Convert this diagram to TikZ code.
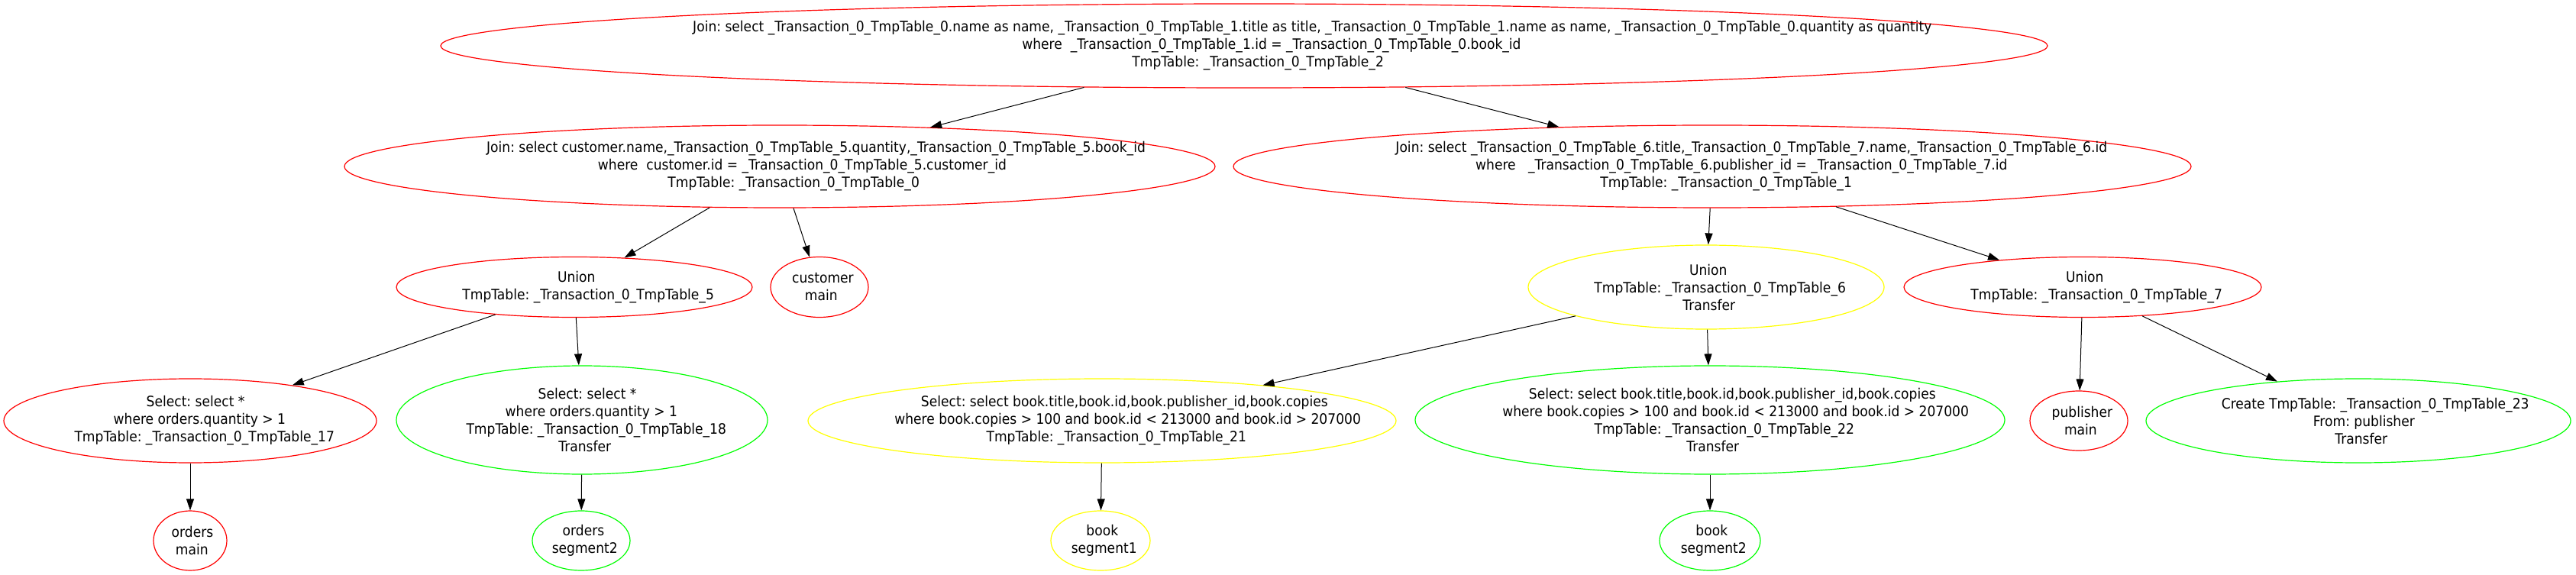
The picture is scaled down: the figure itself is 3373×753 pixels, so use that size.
\documentclass[tikz,border=0pt]{standalone}
\usepackage{fontspec}
\setmainfont{DejaVu Sans}[FakeStretch=0.91]
\usetikzlibrary{shapes.geometric,arrows.meta}
\frenchspacing
\definecolor{gvred}{RGB}{255,0,0}
\definecolor{gvgreen}{RGB}{0,255,0}
\definecolor{gvyellow}{RGB}{255,255,0}
\newcommand{\gl}[1]{\makebox[0.89\width][l]{#1}}
\newcommand{\TT}[1]{\_Transaction\_0\_TmpTable\_#1}
\tikzset{
  gv/.style={ellipse, draw=#1, line width=0.6pt, inner sep=0pt},
  sz/.style 2 args={minimum width=#1pt, minimum height=#2pt},
  txt/.style={align=center, inner sep=0pt, font=\fontsize{9.4pt}{11.5pt}\selectfont},
  edge/.style={-{Triangle[length=7.5pt,width=5pt]}, line width=0.5pt, black}
}
\begin{document}
\begin{tikzpicture}[x=0.5pt,y=-0.5pt]
\useasboundingbox (0,0) rectangle (3373,753);
% row 0
\node[gv=gvred, sz={1052}{55}, label={[txt]center:{\gl{Join: select \TT{0}.name as name, \TT{1}.title as title, \TT{1}.name as name, \TT{0}.quantity as quantity}\\\gl{where~ \TT{1}.id = \TT{0}.book\_id}\\\gl{TmpTable: \TT{2}}}}] (top) at (1629,60) {};
% row 1
\node[gv=gvred, sz={570}{54}, label={[txt]center:{\gl{Join: select customer.name,\TT{5}.quantity,\TT{5}.book\_id}\\\gl{where~ customer.id = \TT{5}.customer\_id}\\\gl{TmpTable: \TT{0}}}}] (j0) at (1021,218) {};
\node[gv=gvred, sz={627}{54}, label={[txt]center:{\gl{Join: select \TT{6}.title,\TT{7}.name,\TT{6}.id}\\\gl{where~~ \TT{6}.publisher\_id = \TT{7}.id}\\\gl{TmpTable: \TT{1}}}}] (j1) at (2242,218) {};
% row 2
\node[gv=gvred, sz={233}{39.5}, label={[txt]center:{\gl{Union}\\\gl{TmpTable: \TT{5}}}}] (u5) at (752,376) {};
\node[gv=gvred, sz={64}{39.5}, label={[txt]center:{\gl{customer}\\\gl{main}}}] (cust) at (1073,376) {};
\node[gv=gvyellow, sz={233}{55}, label={[txt]center:{\gl{Union}\\\gl{TmpTable: \TT{6}}\\\gl{Transfer}}}] (u6) at (2234,376) {};
\node[gv=gvred, sz={234}{39.5}, label={[txt]center:{\gl{Union}\\\gl{TmpTable: \TT{7}}}}] (u7) at (2727,376) {};
% row 3
\node[gv=gvred, sz={244}{55}, label={[txt]center:{\gl{Select: select *}\\\gl{where orders.quantity > 1}\\\gl{TmpTable: \TT{17}}}}] (s17) at (249,551) {};
\node[gv=gvgreen, sz={243}{71}, label={[txt]center:{\gl{Select: select *}\\\gl{where orders.quantity > 1}\\\gl{TmpTable: \TT{18}}\\\gl{Transfer}}}] (s18) at (762,550) {};
\node[gv=gvyellow, sz={385}{55}, label={[txt]center:{\gl{Select: select book.title,book.id,book.publisher\_id,book.copies}\\\gl{where book.copies > 100 and book.id < 213000 and book.id > 207000}\\\gl{TmpTable: \TT{21}}}}] (s21) at (1443,551) {};
\node[gv=gvgreen, sz={386}{71}, label={[txt]center:{\gl{Select: select book.title,book.id,book.publisher\_id,book.copies}\\\gl{where book.copies > 100 and book.id < 213000 and book.id > 207000}\\\gl{TmpTable: \TT{22}}\\\gl{Transfer}}}] (s22) at (2239,550) {};
\node[gv=gvred, sz={64}{39}, label={[txt]center:{\gl{publisher}\\\gl{main}}}] (pub) at (2722,551) {};
\node[gv=gvgreen, sz={278}{55}, label={[txt]center:{\gl{Create TmpTable: \TT{23}}\\\gl{From: publisher}\\\gl{Transfer}}}] (cr23) at (3088,551) {};
% row 4
\node[gv=gvred, sz={48}{39}, label={[txt]center:{\gl{orders}\\\gl{main}}}] (om) at (249,708) {};
\node[gv=gvgreen, sz={64}{39}, label={[txt]center:{\gl{orders}\\\gl{segment2}}}] (os2) at (761,708) {};
\node[gv=gvyellow, sz={65}{39}, label={[txt]center:{\gl{book}\\\gl{segment1}}}] (bs1) at (1441,708) {};
\node[gv=gvgreen, sz={66}{39}, label={[txt]center:{\gl{book}\\\gl{segment2}}}] (bs2) at (2239,708) {};
% edges
\draw[edge] (top) -- (j0);
\draw[edge] (top) -- (j1);
\draw[edge] (j0) -- (u5);
\draw[edge] (j0) -- (cust);
\draw[edge] (j1) -- (u6);
\draw[edge] (j1) -- (u7);
\draw[edge] (u5) -- (s17);
\draw[edge] (u5) -- (s18);
\draw[edge] (u6) -- (s21);
\draw[edge] (u6) -- (s22);
\draw[edge] (u7) -- (pub);
\draw[edge] (u7) -- (cr23);
\draw[edge] (s17) -- (om);
\draw[edge] (s18) -- (os2);
\draw[edge] (s21) -- (bs1);
\draw[edge] (s22) -- (bs2);
\end{tikzpicture}
\end{document}
